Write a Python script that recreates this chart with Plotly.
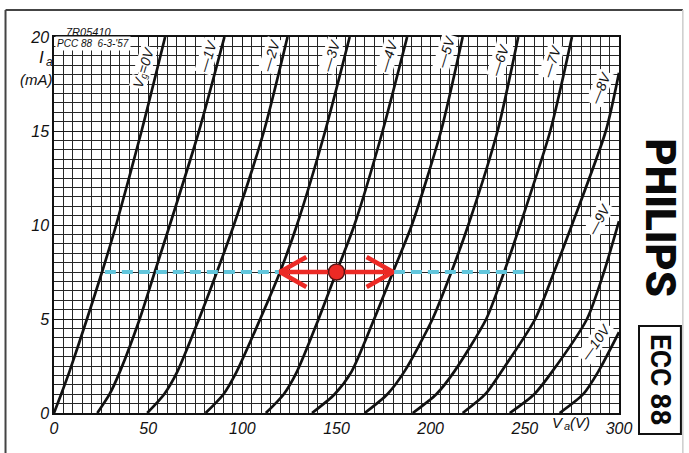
import math
import plotly.graph_objects as go

# ECC88 anode characteristics: anode current Ia (mA) against anode voltage Va (V)
# for grid voltages 0 V to -10 V.
ia_full = [0, 1, 2.2, 5, 7.5, 10, 15, 20]

va_g0 = [0, 3.8, 8.2, 17.5, 25.5, 33, 46.5, 59]
va_g1 = [23, 29.5, 35, 45.5, 53.5, 61.5, 77, 90.5]
va_g2 = [49.5, 58.5, 65.5, 77, 86.5, 95.5, 111.5, 124]
va_g3 = [80.5, 90, 97, 109.5, 120, 129, 144, 157]
va_g4 = [112.5, 122, 129, 140.5, 150, 159.5, 174.5, 187.5]
va_g5 = [137, 149, 158, 170, 180, 190, 205.5, 217]
va_g6 = [165, 177, 186, 201, 211, 220, 235.5, 246.5]
va_g7 = [190.5, 203, 212.5, 229.5, 239, 247.5, 263.5, 275]

ia_g8 = [0, 1, 2.2, 5, 7.5, 10, 15, 18.1]
va_g8 = [217, 229, 237.5, 255.5, 265.5, 275, 293, 300]

ia_g9 = [0, 1, 2.2, 5, 7.5, 10.2]
va_g9 = [242, 255, 264.5, 283, 292, 300]

ia_g10 = [0, 1, 2.2, 4.3]
va_g10 = [268.5, 281, 289, 300]

curves = [
    (va_g0, ia_full), (va_g1, ia_full), (va_g2, ia_full), (va_g3, ia_full),
    (va_g4, ia_full), (va_g5, ia_full), (va_g6, ia_full), (va_g7, ia_full),
    (va_g8, ia_g8), (va_g9, ia_g9), (va_g10, ia_g10),
]

# curve labels: text, position (Va, Ia), text angle
curve_labels = [
    ("\u20141V", 81.5, 19.0, -73),
    ("\u20142V", 115, 19.0, -73),
    ("\u20143V", 147, 19.0, -73),
    ("\u20144V", 177.5, 19.0, -73),
    ("\u20145V", 208, 19.2, -73),
    ("\u20146V", 236.5, 18.8, -72),
    ("\u20147V", 264.5, 18.7, -72),
    ("\u20148V", 290, 17.3, -68),
    ("\u20149V", 289.5, 10.3, -62),
    ("\u201410V", 287.5, 3.8, -55),
]
# the Vg=0V label is set in pieces so the "g" can sit as a subscript
g0_label_pos = (47.5, 18.4, -73)

# operating point and the +/-1 V grid swing at constant current
op_va, op_ia = 150, 7.5
swing_left, swing_right = 120, 180
const_line_va = [27, 250]

x_ticks = [0, 50, 100, 150, 200, 250, 300]
y_ticks = [0, 5, 10, 15, 20]

fig = go.Figure()

for va, ia in curves:
    fig.add_trace(go.Scatter(
        x=va, y=ia, mode="lines",
        line=dict(color="#111111", width=2.7, shape="spline", smoothing=0.7),
        hoverinfo="skip", showlegend=False,
    ))

# constant-current line
fig.add_trace(go.Scatter(
    x=const_line_va, y=[op_ia, op_ia], mode="lines",
    line=dict(color="#62c6dc", width=4, dash="11px,6px"),
    showlegend=False, hoverinfo="skip",
))

red = "#ec2a25"
# double arrow shaft
fig.add_trace(go.Scatter(
    x=[swing_left, swing_right], y=[op_ia, op_ia], mode="lines",
    line=dict(color=red, width=4.5), showlegend=False, hoverinfo="skip",
))
# open chevron heads
arm_dx, arm_dy = 14, 0.8
fig.add_trace(go.Scatter(
    x=[swing_left + arm_dx, swing_left, swing_left + arm_dx],
    y=[op_ia + arm_dy, op_ia, op_ia - arm_dy], mode="lines",
    line=dict(color=red, width=4.5), showlegend=False, hoverinfo="skip",
))
fig.add_trace(go.Scatter(
    x=[swing_right - arm_dx, swing_right, swing_right - arm_dx],
    y=[op_ia + arm_dy, op_ia, op_ia - arm_dy], mode="lines",
    line=dict(color=red, width=4.5), showlegend=False, hoverinfo="skip",
))
# operating point
fig.add_trace(go.Scatter(
    x=[op_va], y=[op_ia], mode="markers",
    marker=dict(size=16, color=red, line=dict(color="#5a1414", width=1.5)),
    showlegend=False, hoverinfo="skip",
))

tick_font = dict(family="Liberation Sans, Arial, sans-serif", size=16,
                 color="#111111", style="italic")

fig.update_xaxes(
    range=[0, 300], tickvals=x_ticks, ticktext=[str(v) for v in x_ticks],
    showgrid=True, gridcolor="#1a1a1a", gridwidth=1.3,
    minor=dict(dtick=5, showgrid=True, gridcolor="#262626", gridwidth=1),
    showline=True, mirror=True, linecolor="#111111", linewidth=1.5,
    zeroline=False, ticks="", tickfont=tick_font,
)
fig.update_yaxes(
    range=[0, 20], tickvals=y_ticks, ticktext=[str(v) for v in y_ticks],
    showgrid=True, gridcolor="#1a1a1a", gridwidth=1.3,
    minor=dict(dtick=0.5, showgrid=True, gridcolor="#262626", gridwidth=1),
    showline=True, mirror=True, linecolor="#111111", linewidth=1.5,
    zeroline=False, ticks="", tickfont=tick_font,
)

label_font = dict(family="Liberation Sans, Arial, sans-serif", size=14,
                  color="#111111", style="italic")
center = dict(showarrow=False, xanchor="center", yanchor="middle")
annotations = []
for text, xv, yv, ang in curve_labels:
    annotations.append(dict(
        center, x=xv, y=yv, xref="x", yref="y", text=text,
        textangle=ang, font=label_font, bgcolor="white", borderpad=0,
    ))

# "V", subscript "g", "=0V" laid along the rotated baseline (offsets in px)
gx, gy, gang = g0_label_pos
rad = math.radians(-gang)
along = (math.cos(rad), math.sin(rad))      # reading direction (x right, y up)
down = (math.sin(rad), -math.cos(rad))      # towards the text's baseline below
for text, size, s, t in [("V", 14, -15.5, 0.0), ("g", 10, -8.0, 3.0),
                         ("=0V", 14, 7.5, 0.0)]:
    annotations.append(dict(
        center, x=gx, y=gy, xref="x", yref="y", text=text, textangle=gang,
        xshift=along[0] * s + down[0] * t, yshift=along[1] * s + down[1] * t,
        font=dict(label_font, size=size), bgcolor="white", borderpad=0,
    ))

annotations += [
    # axis names, with their subscripts set as separate smaller texts
    dict(center, x=-0.0221, y=0.9468, xref="paper", yref="paper",
         text="I", font=dict(tick_font, size=17)),
    dict(center, x=-0.0075, y=0.9325, xref="paper", yref="paper",
         text="a", font=dict(tick_font, size=12)),
    dict(center, x=-0.031, y=0.886, xref="paper", yref="paper",
         text="(mA)", font=dict(tick_font, size=15)),
    dict(center, x=267.6, y=-0.024, xref="x", yref="paper",
         text="V", font=dict(tick_font, size=15)),
    dict(center, x=272.2, y=-0.035, xref="x", yref="paper",
         text="a", font=dict(tick_font, size=11)),
    dict(center, x=279.5, y=-0.024, xref="x", yref="paper",
         text="(V)", font=dict(tick_font, size=15)),
    dict(center, x=0.0628, y=1.0146, xref="paper", yref="paper",
         text="7R05410", font=dict(tick_font, size=11)),
    dict(center, x=0.0699, y=0.984, xref="paper", yref="paper",
         text="PCC 88  6-3-'57", bgcolor="white", borderpad=1,
         font=dict(tick_font, size=10)),
    dict(center, x=1.074, y=0.518, xref="paper", yref="paper",
         text="PHILIPS", textangle=90,
         font=dict(family="Roboto, Liberation Sans, Arial", size=42,
                   color="#0a0a0a", weight=900)),
    dict(center, x=1.0725, y=0.0878, xref="paper", yref="paper",
         text="ECC 88", textangle=90,
         font=dict(family="Roboto, Liberation Sans, Arial", size=28,
                   color="#0a0a0a", weight=700)),
]

shapes = [
    # ECC 88 box
    dict(type="rect", xref="paper", yref="paper", x0=1.0354, x1=1.1096,
         y0=-0.0559, y1=0.2314, line=dict(color="#111111", width=2)),
    # page frame
    dict(type="line", xref="paper", yref="paper", x0=-0.0858, x1=1.113,
         y0=1.0718, y1=1.0718, line=dict(color="#444444", width=2)),
    dict(type="line", xref="paper", yref="paper", x0=-0.0858, x1=-0.0858,
         y0=1.0718, y1=-0.11, line=dict(color="#444444", width=2)),
    dict(type="line", xref="paper", yref="paper", x0=1.113, x1=1.113,
         y0=1.0718, y1=-0.11, line=dict(color="#cccccc", width=1.5)),
]

fig.update_layout(
    width=689, height=453,
    margin=dict(l=53.5, r=70, t=37, b=40),
    paper_bgcolor="white", plot_bgcolor="white",
    annotations=annotations, shapes=shapes, showlegend=False,
)

fig.write_html("out.html")
